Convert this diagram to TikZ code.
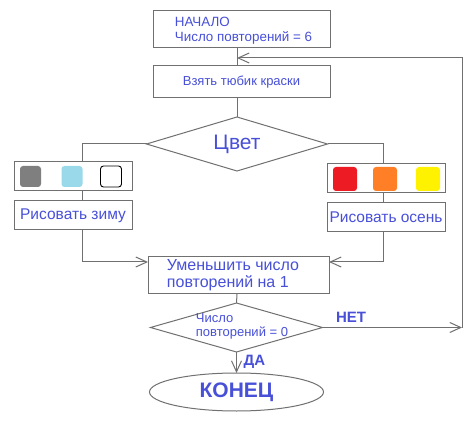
\documentclass[tikz,border=0pt]{standalone}
\usepackage{fontspec}
\setmainfont{Liberation Sans}
\usetikzlibrary{arrows.meta,shapes.geometric}
\definecolor{txt}{RGB}{72,80,216}
\definecolor{ln}{RGB}{112,112,112}
\definecolor{sqgrey}{RGB}{127,127,127}
\definecolor{sqblue}{RGB}{153,217,234}
\definecolor{sqred}{RGB}{237,28,36}
\definecolor{sqorange}{RGB}{255,127,39}
\definecolor{sqyellow}{RGB}{255,242,0}
\begin{document}
\begin{tikzpicture}[x=1pt,y=-1pt,line width=1pt,
  box/.style={draw=ln,rectangle,inner sep=0pt,outer sep=0pt,text=txt},
  dia/.style={draw=ln,diamond,inner sep=0pt,outer sep=0pt,text=txt},
  lbl/.style={text=txt,inner sep=0pt,outer sep=0pt},
  conn/.style={draw=ln},
  arr/.style={draw=ln,-{Straight Barb[length=11pt,width=10pt]}},
  sq/.style={rectangle,rounded corners=3pt,inner sep=0pt,outer sep=0pt}
]
\fill[white] (0,0) rectangle (476,427);
\useasboundingbox (0,0) rectangle (476,427);

% boxes
\node[box,minimum width=177pt,minimum height=37pt] (start) at (241.5,29.5) {};
\node[lbl,align=left,font=\fontsize{13.4}{15}\selectfont] (starttext) at (243.5,31) {НАЧАЛО\\Число повторений = 6};
\node[box,minimum width=177pt,minimum height=32pt,font=\fontsize{13}{15}\selectfont] (box2) at (241.5,82) {Взять тюбик краски};
\node[dia,minimum width=181pt,minimum height=54pt,aspect=3.35,font=\fontsize{21}{24}\selectfont] (d1) at (237,144) {Цвет};

% left branch
\node[box,minimum width=118pt,minimum height=29pt] (lcol) at (73,176.5) {};
\node[sq,fill=sqgrey,minimum size=21pt] (sq1) at (30.5,176.5) {};
\node[sq,fill=sqblue,minimum size=21pt] (sq2) at (72,176.5) {};
\node[sq,fill=white,draw=black,line width=0.9pt,minimum size=21pt] (sq3) at (111,176.5) {};
\node[box,minimum width=118pt,minimum height=29pt,font=\fontsize{15.5}{18}\selectfont] (ltext) at (73,215.5) {Рисовать зиму};

% right branch
\node[box,minimum width=118pt,minimum height=29pt] (rcol) at (386,178.5) {};
\node[sq,fill=sqred,minimum size=24pt] (sq4) at (345,179) {};
\node[sq,fill=sqorange,minimum size=24pt] (sq5) at (385,179) {};
\node[sq,fill=sqyellow,minimum size=24pt] (sq6) at (428,179) {};
\node[box,minimum width=118pt,minimum height=29pt,font=\fontsize{15.5}{18}\selectfont] (rtext) at (386,217.5) {Рисовать осень};

% reduce
\node[box,minimum width=181pt,minimum height=37pt] (reduce) at (238.5,275.5) {};
\node[lbl,align=left,font=\fontsize{16}{17}\selectfont] (reducetext) at (233,275.5) {Уменьшить число\\повторений на 1};

% diamond 2
\node[dia,minimum width=172pt,minimum height=49pt,aspect=3.5] (d2) at (236.5,327.5) {};
\node[lbl,align=left,font=\fontsize{13}{14}\selectfont] (d2text) at (242,326.6) {Число\\повторений = 0};

% end
\node[draw=ln,ellipse,minimum width=174pt,minimum height=38pt,inner sep=0pt,outer sep=0pt,text=txt,font=\bfseries\fontsize{21}{24}\selectfont] (end) at (236.5,392) {КОНЕЦ};

% labels
\node[lbl,font=\bfseries\fontsize{15}{17}\selectfont] (net) at (351,317.5) {НЕТ};
\node[lbl,font=\bfseries\fontsize{15}{17}\selectfont] (da) at (254.5,362) {ДА};

% helper coordinates
\coordinate (lx) at (82,0);
\coordinate (rx) at (383,0);
\coordinate (my) at (0,262);
\coordinate (loopx) at (462,0);
\coordinate (loopy) at (0,58);
\coordinate (cx) at (237,0);

% connectors
\draw[conn] (start.south -| cx) -- (box2.north -| cx);
\draw[conn] (box2.south -| cx) -- (d1.north);
\draw[conn] (d1.west) -| (lx |- lcol.north);
\draw[conn] (lx |- lcol.south) -- (lx |- ltext.north);
\draw[arr] (lx |- ltext.south) |- (reduce.west |- my);
\draw[conn] (d1.east) -| (rx |- rcol.north);
\draw[conn] (rx |- rcol.south) -- (rx |- rtext.north);
\draw[arr] (rx |- rtext.south) |- (reduce.east |- my);
\draw[conn] (reduce.south -| cx) -- (d2.north);
\draw[arr] (d2.south) -- (end.north);
\draw[arr] (d2.east) -- (loopx |- d2.east);
\draw[arr] (loopx |- d2.east) -- (loopx |- loopy) -- (cx |- loopy);
\end{tikzpicture}
\end{document}
